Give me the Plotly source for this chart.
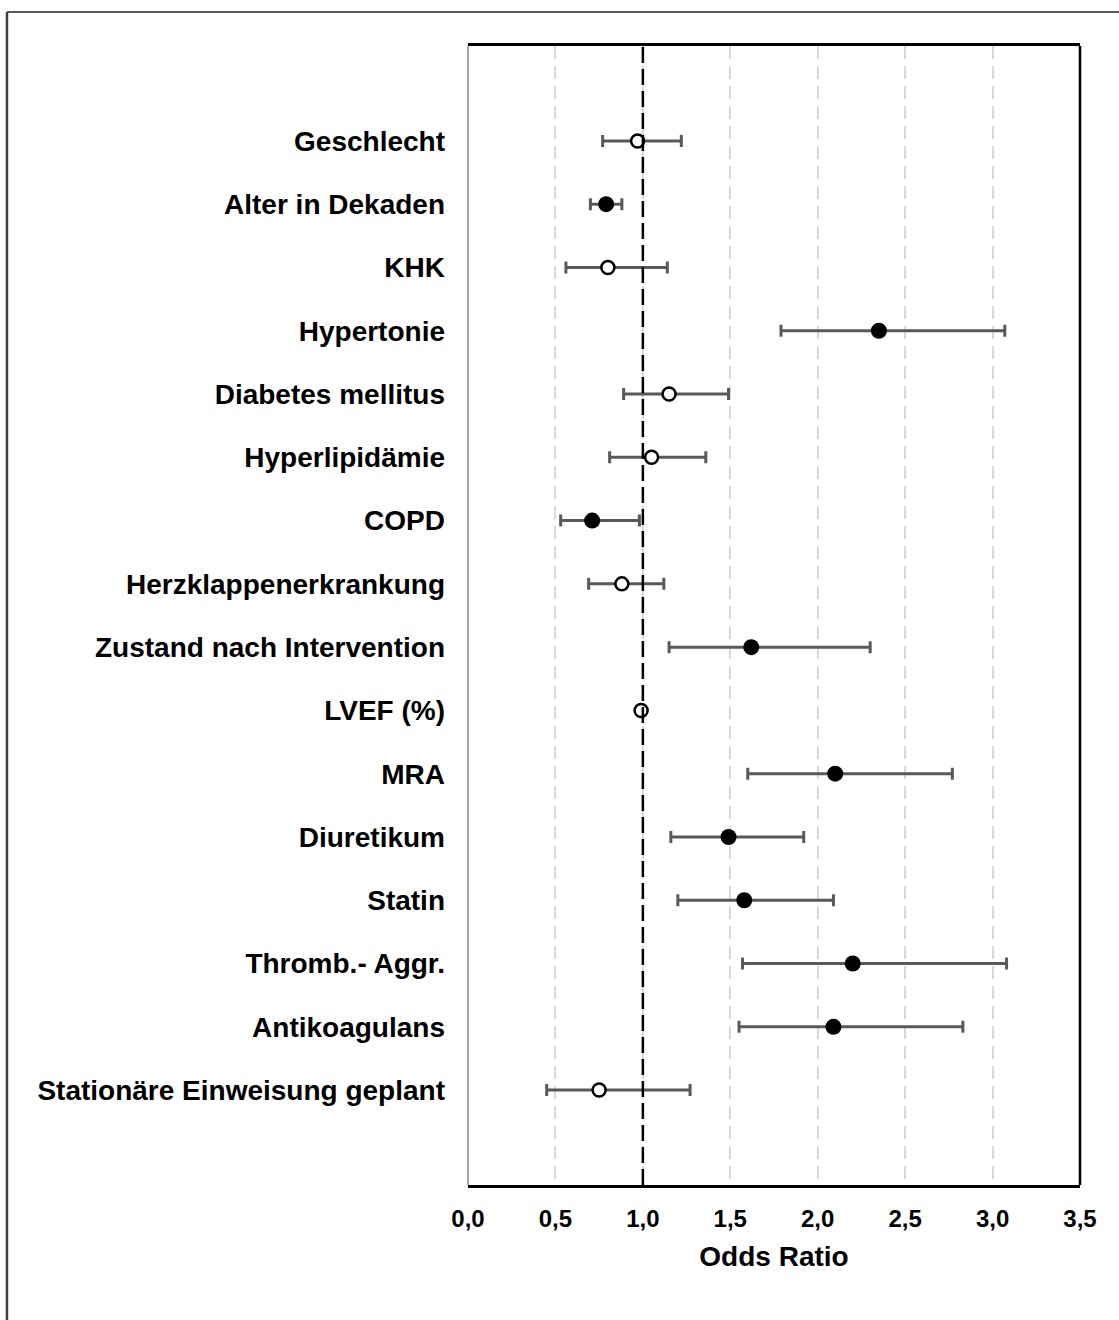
import plotly.graph_objects as go

# Odds ratios with 95% confidence intervals per predictor
categories = [
    "Geschlecht", "Alter in Dekaden", "KHK", "Hypertonie", "Diabetes mellitus",
    "Hyperlipidämie", "COPD", "Herzklappenerkrankung", "Zustand nach Intervention",
    "LVEF (%)", "MRA", "Diuretikum", "Statin", "Thromb.- Aggr.", "Antikoagulans",
    "Stationäre Einweisung geplant",
]
odds_ratio = [0.97, 0.79, 0.80, 2.35, 1.15, 1.05, 0.71, 0.88, 1.62,
              0.99, 2.10, 1.49, 1.58, 2.20, 2.09, 0.75]
ci_lower = [0.77, 0.70, 0.56, 1.79, 0.89, 0.81, 0.53, 0.69, 1.15,
            0.98, 1.60, 1.16, 1.20, 1.57, 1.55, 0.45]
ci_upper = [1.22, 0.88, 1.14, 3.07, 1.49, 1.36, 0.98, 1.12, 2.30,
            1.00, 2.77, 1.92, 2.09, 3.08, 2.83, 1.27]
significant = [False, True, False, True, False, False, True, False, True,
               False, True, True, True, True, True, False]

x_ticks = [0.0, 0.5, 1.0, 1.5, 2.0, 2.5, 3.0, 3.5]
x_tick_labels = ["0,0", "0,5", "1,0", "1,5", "2,0", "2,5", "3,0", "3,5"]

FONT = "Liberation Sans, Arial, sans-serif"
BAR_COLOR = "#595959"

fig = go.Figure()

for sig in (True, False):
    idx = [i for i, s in enumerate(significant) if s == sig]
    xs = [odds_ratio[i] for i in idx]
    fig.add_trace(go.Scatter(
        x=xs,
        y=[categories[i] for i in idx],
        mode="markers",
        error_x=dict(
            type="data",
            symmetric=False,
            array=[ci_upper[i] - odds_ratio[i] for i in idx],
            arrayminus=[odds_ratio[i] - ci_lower[i] for i in idx],
            color=BAR_COLOR,
            thickness=3,
            width=6,
        ),
        marker=dict(
            symbol="circle",
            size=16 if sig else 13,
            color="black" if sig else "white",
            line=dict(color="black", width=0 if sig else 2.5),
        ),
        showlegend=False,
        hoverinfo="skip",
    ))

# reference line at OR = 1
fig.add_shape(type="line", xref="x", yref="paper", x0=1, x1=1, y0=0, y1=1,
              line=dict(color="black", width=2.5, dash="16px,6px"), layer="above")

# plot frame: gray left edge, black right edge
fig.add_shape(type="line", xref="paper", yref="paper", x0=0, x1=0, y0=0, y1=1,
              line=dict(color="#a6a6a6", width=2))
fig.add_shape(type="line", xref="paper", yref="paper", x0=1, x1=1, y0=0, y1=1,
              line=dict(color="black", width=2.5))

# outer chart border (top and left edges)
fig.add_shape(type="line", xref="paper", yref="paper", x0=-0.7533, x1=1.2,
              y0=1.0299, y1=1.0299, line=dict(color="#595959", width=2))
fig.add_shape(type="line", xref="paper", yref="paper", x0=-0.7533, x1=-0.7533,
              y0=-0.3, y1=1.0299, line=dict(color="#404040", width=2.5))

fig.update_xaxes(
    range=[0, 3.5],
    tickvals=x_ticks,
    ticktext=x_tick_labels,
    tickfont=dict(family=FONT, size=24, color="black", weight="bold"),
    ticklabelstandoff=10,
    showgrid=True,
    gridcolor="#d9d9d9",
    gridwidth=2,
    griddash="13px,7px",
    zeroline=False,
    showline=True,
    linecolor="black",
    linewidth=2.5,
    mirror=True,
    title=dict(text="<b>Odds Ratio</b>", font=dict(family=FONT, size=28, color="black"),
               standoff=16),
)
fig.update_yaxes(
    type="category",
    categoryorder="array",
    categoryarray=categories,
    range=[len(categories) + 0.5, -1.5],
    tickfont=dict(family=FONT, size=28, color="black", weight="bold"),
    ticklabelstandoff=22,
    showgrid=False,
    zeroline=False,
    showline=False,
)

fig.update_layout(
    width=1119,
    height=1320,
    margin=dict(l=468, r=39, t=46, b=135),
    paper_bgcolor="white",
    plot_bgcolor="white",
)

fig.write_html("out.html")
